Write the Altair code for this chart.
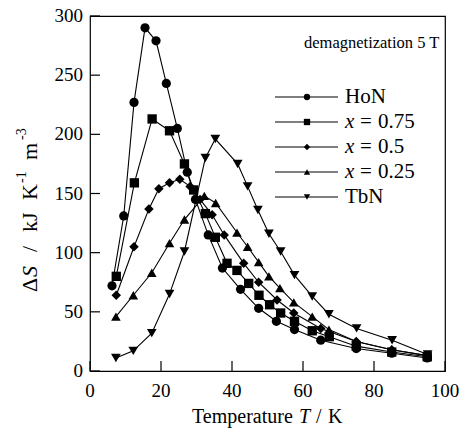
import altair as alt
import pandas as pd

series = ["HoN", "x = 0.75", "x = 0.5", "x = 0.25", "TbN"]
shapes = ["circle", "square", "diamond", "triangle-up", "triangle-down"]
msizes = [85, 95, 75, 90, 90]

hon_T = [6.2, 9.5, 12.4, 15.5, 18.6, 21.5, 24.6, 27.4, 29.7, 33.3, 37.3, 42.4, 47.5, 52.5, 57.6, 65.0, 75.0, 85.0, 95.0]
hon_S = [72, 131, 227, 290, 279, 243, 205, 168, 145, 115, 87, 69, 53, 42, 35, 26, 19, 15, 11]

x75_T = [7.4, 12.5, 17.5, 22.4, 26.6, 29.2, 32.5, 35.3, 38.6, 41.4, 44.7, 47.6, 50.6, 53.7, 57.6, 62.6, 67.4, 75.0, 85.0, 95.0]
x75_S = [80, 159, 213, 203, 175, 153, 133, 113, 91, 85, 74, 64, 56, 49, 42, 34, 29, 21, 16, 12]

x50_T = [7.4, 12.4, 16.6, 19.4, 22.4, 25.3, 28.2, 31.0, 34.4, 37.8, 43.3, 47.5, 52.7, 57.4, 65.0, 75.0, 85.0, 95.0]
x50_S = [64, 105, 137, 154, 159, 162, 156, 145, 132, 115, 91, 75, 60, 49, 36, 25, 18, 13]

x25_T = [7.3, 12.2, 17.4, 22.4, 26.6, 32.2, 35.4, 41.4, 44.4, 47.5, 50.4, 53.5, 57.4, 62.6, 67.3, 75.0, 85.0, 95.0]
x25_S = [46, 64, 83, 108, 128, 148, 142, 117, 105, 92, 80, 70, 58, 46, 35, 25, 18, 13]

tbn_T = [7.3, 12.2, 17.4, 22.4, 26.6, 32.5, 35.3, 41.6, 44.4, 47.3, 50.4, 53.7, 57.6, 62.6, 67.3, 75.1, 85.1, 95.1]
tbn_S = [11, 17, 32, 65, 101, 180, 196, 175, 156, 136, 116, 101, 81, 63, 48, 36, 26, 14]

x_ticks = [0, 20, 40, 60, 80, 100]
y_ticks = [0, 50, 100, 150, 200, 250, 300]

all_T = [hon_T, x75_T, x50_T, x25_T, tbn_T]
all_S = [hon_S, x75_S, x50_S, x25_S, tbn_S]
rows = []
for name, Ts, Ss in zip(series, all_T, all_S):
    for t, s in zip(Ts, Ss):
        rows.append({"series": name, "T": t, "S": s})
df = pd.DataFrame(rows)

W, H = 355, 355
SERIF = "Liberation Serif"
TICK = 10

xs = alt.Scale(domain=[0, 100], nice=False)
ys = alt.Scale(domain=[0, 300], nice=False)
shape_scale = alt.Scale(domain=series, range=shapes)
size_scale = alt.Scale(domain=series, range=msizes)

base = alt.Chart(df)
lines = base.mark_line(color="black", strokeWidth=1.1).encode(
    x=alt.X("T:Q", scale=xs, axis=None),
    y=alt.Y("S:Q", scale=ys, axis=None),
    detail="series:N",
    order="T:Q",
)
points = base.mark_point(filled=True, color="black", opacity=1).encode(
    x="T:Q", y="S:Q",
    shape=alt.Shape("series:N", scale=shape_scale, legend=None),
    size=alt.Size("series:N", scale=size_scale, legend=None),
)

# inward tick marks and tick labels
xt = pd.DataFrame({"v": x_ticks})
yt = pd.DataFrame({"v": y_ticks})
xticks = alt.Chart(xt).mark_rule(color="black", strokeWidth=1.2).encode(
    x=alt.X("v:Q", scale=xs), y=alt.value(H), y2=alt.value(H - TICK))
yticks = alt.Chart(yt).mark_rule(color="black", strokeWidth=1.2).encode(
    y=alt.Y("v:Q", scale=ys), x=alt.value(0), x2=alt.value(TICK))
xlabels = alt.Chart(xt).mark_text(font=SERIF, fontSize=19, align="center", baseline="alphabetic", color="black").encode(
    x=alt.X("v:Q", scale=xs), y=alt.value(H + 26), text="v:Q")
ylabels = alt.Chart(yt).mark_text(font=SERIF, fontSize=19, align="right", baseline="alphabetic", color="black", dy=6).encode(
    y=alt.Y("v:Q", scale=ys), x=alt.value(-7), text="v:Q")

# manual legend
leg = pd.DataFrame({"series": series})
leg["ly"] = [81 + 25 * i for i in range(len(series))]
leg["x1"] = 185
leg["x2"] = 248
leg["xm"] = 217
leg_lines = alt.Chart(leg).mark_rule(color="black", strokeWidth=1.2).encode(
    x=alt.X("x1:Q", scale=None), x2="x2:Q", y=alt.Y("ly:Q", scale=None)
)
leg_pts = alt.Chart(leg).mark_point(filled=True, color="black", opacity=1, size=40).encode(
    x=alt.X("xm:Q", scale=None), y=alt.Y("ly:Q", scale=None),
    shape=alt.Shape("series:N", scale=shape_scale, legend=None),
)
leg_plain = leg[~leg["series"].str.startswith("x")].copy()
leg_x = leg[leg["series"].str.startswith("x")].copy()
leg_x["num"] = leg_x["series"].str.split("= ").str[1]
leg_x["it"] = "x"
leg_x["eq"] = "="
LF = 21
lab_plain = alt.Chart(leg_plain).mark_text(font=SERIF, fontSize=LF, align="left", baseline="middle", color="black").encode(
    x=alt.value(255), y=alt.Y("ly:Q", scale=None), text="series:N")
lab_it = alt.Chart(leg_x).mark_text(font=SERIF, fontSize=LF, fontStyle="italic", align="left", baseline="middle", color="black").encode(
    x=alt.value(255), y=alt.Y("ly:Q", scale=None), text="it:N")
lab_eq = alt.Chart(leg_x).mark_text(font=SERIF, fontSize=LF, align="left", baseline="middle", color="black", dx=15).encode(
    x=alt.value(255), y=alt.Y("ly:Q", scale=None), text="eq:N")
lab_num = alt.Chart(leg_x).mark_text(font=SERIF, fontSize=LF, align="left", baseline="middle", color="black", dx=33).encode(
    x=alt.value(255), y=alt.Y("ly:Q", scale=None), text="num:N")


def txt(s, x, y, size=17, style="normal", angle=0):
    return alt.Chart(pd.DataFrame({"t": [s]})).mark_text(
        text=s, font=SERIF, fontSize=size, fontStyle=style, angle=angle,
        align="left", baseline="alphabetic", color="black"
    ).encode(x=alt.value(x), y=alt.value(y))

ox, oy = 90, 16
YF = 22
texts = [
    txt("demagnetization 5 T", 304 - ox, 48 - oy, size=16.5),
    # x title
    txt("Temperature", 192 - ox, 423 - oy, size=20),
    txt("T", 299 - ox, 423 - oy, size=20, style="italic"),
    txt("/", 316 - ox, 423 - oy, size=20),
    txt("K", 328 - ox, 423 - oy, size=20),
    # y title (rotated, reads bottom to top)
    txt("\u0394", 37 - ox, 292 - oy, size=YF, angle=270),
    txt("S", 37 - ox, 277 - oy, size=YF, style="italic", angle=270),
    txt("/", 37 - ox, 252 - oy, size=YF, angle=270),
    txt("kJ", 37 - ox, 232 - oy, size=YF, angle=270),
    txt("K", 37 - ox, 200 - oy, size=YF, angle=270),
    txt("-1", 26 - ox, 183 - oy, size=14, angle=270),
    txt("m", 37 - ox, 160 - oy, size=YF, angle=270),
    txt("-3", 26 - ox, 140 - oy, size=14, angle=270),
]

chart = alt.layer(lines, points, xticks, yticks, xlabels, ylabels, leg_lines, leg_pts,
                  lab_plain, lab_it, lab_eq, lab_num, *texts).properties(
    width=W, height=H,
    autosize=alt.AutoSizeParams(type="none"),
    padding={"left": 90, "top": 16, "right": 14, "bottom": 58},
).configure_view(stroke="black", strokeWidth=1.2)

chart.save("out.html", embed_options={"renderer": "svg", "actions": False})
